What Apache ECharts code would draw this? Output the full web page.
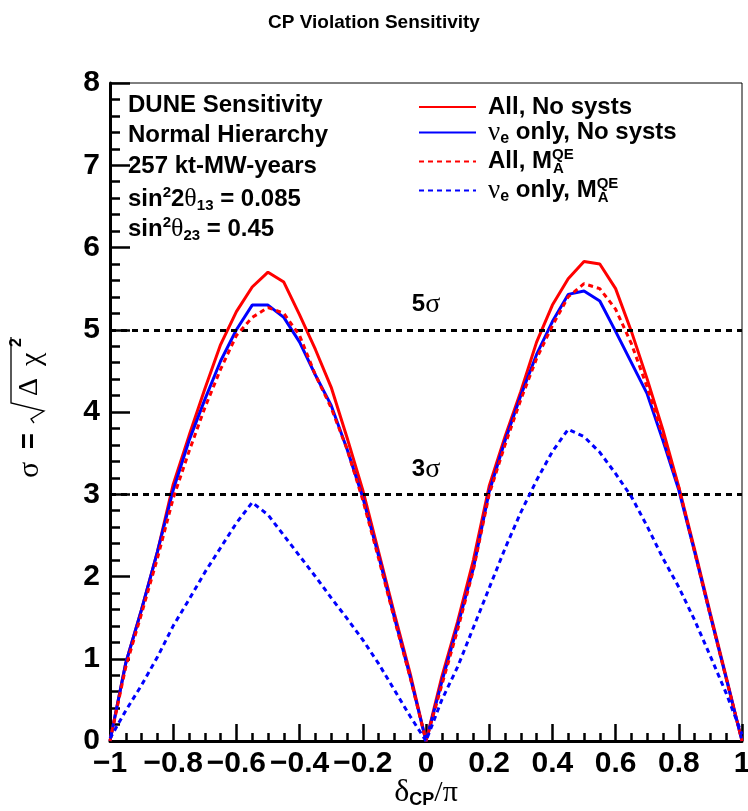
<!DOCTYPE html>
<html><head><meta charset="utf-8">
<script src="https://cdn.jsdelivr.net/npm/echarts@6/dist/echarts.min.js"></script>
<style>html,body{margin:0;padding:0;background:#fff}#c{width:748px;height:811px}</style>
</head><body><div id="c"></div>
<script>
// delta_CP / pi sample points
const deltaCP = [-1,-0.95,-0.9,-0.85,-0.8,-0.75,-0.7,-0.65,-0.6,-0.55,-0.5,-0.45,-0.4,-0.35,-0.3,-0.25,-0.2,-0.15,-0.1,-0.05,
  0,0.05,0.1,0.15,0.2,0.25,0.3,0.35,0.4,0.45,0.5,0.55,0.6,0.65,0.7,0.75,0.8,0.85,0.9,0.95,1];
// sigma = sqrt(delta chi^2)
const allNoSysts = [0,0.95,1.6,2.3,3.12,3.71,4.28,4.82,5.22,5.52,5.70,5.58,5.18,4.76,4.3,3.69,3.05,2.3,1.55,0.82,
  0,0.78,1.45,2.2,3.1,3.7,4.25,4.85,5.3,5.62,5.83,5.8,5.5,4.98,4.4,3.78,3.09,2.33,1.55,0.78,0];
const nueNoSysts = [0,0.95,1.6,2.3,3.05,3.65,4.15,4.62,5.0,5.3,5.3,5.15,4.85,4.45,4.08,3.55,2.96,2.25,1.5,0.78,
  0,0.72,1.4,2.1,3.03,3.65,4.2,4.7,5.1,5.43,5.47,5.35,4.98,4.6,4.22,3.65,3.05,2.3,1.52,0.76,0];
const allMAQE = [0,0.9,1.55,2.22,2.95,3.52,4.05,4.52,4.93,5.15,5.27,5.2,4.93,4.45,4.05,3.55,2.93,2.22,1.48,0.77,
  0,0.68,1.35,2.08,3.0,3.6,4.15,4.65,5.05,5.4,5.56,5.5,5.25,4.83,4.3,3.7,3.08,2.3,1.52,0.76,0];
const nueMAQE = [0.03,0.37,0.68,1.02,1.4,1.72,2.05,2.35,2.65,2.9,2.75,2.5,2.25,2.0,1.74,1.49,1.23,0.94,0.62,0.3,
  0,0.5,0.9,1.38,1.86,2.34,2.78,3.17,3.52,3.79,3.7,3.51,3.25,2.97,2.61,2.22,1.87,1.47,1.03,0.58,0.08];
const seriesNames = ['All, No systs', 'νe only, No systs', 'All, MA QE', 'νe only, MA QE'];
const sigmaLevels = [5, 3];
const infoLines = ['DUNE Sensitivity', 'Normal Hierarchy', '257 kt-MW-years'];

const SANS = '"Liberation Sans", Arial, Helvetica, sans-serif';
const SERIF = '"Liberation Serif", "DejaVu Serif", serif';

function zip(ys){ return deltaCP.map((x,i)=>[x, ys[i]]); }

const chart = echarts.init(document.getElementById('c'), null, {renderer:'canvas'});

const legendRich = {
  b: {fontFamily:SANS, fontSize:24, fontWeight:'bold', color:'#000', lineHeight:29},
  nu: {fontFamily:SERIF, fontSize:27, fontWeight:'normal', color:'#000', lineHeight:29},
  e: {fontFamily:SANS, fontSize:16, fontWeight:'bold', color:'#000', lineHeight:12, verticalAlign:'bottom'},
  sp: {fontFamily:SANS, fontSize:15, fontWeight:'bold', color:'#000', lineHeight:15, verticalAlign:'top', width:1},
  sb: {fontFamily:SANS, fontSize:15, fontWeight:'bold', color:'#000', lineHeight:11, verticalAlign:'bottom'}
};
const legendText = {
  'All, No systs': '{b|All, No systs}',
  'νe only, No systs': '{nu|ν}{e|e}{b| only, No systs}',
  'All, MA QE': '{b|All, M}{sp|QE}{sb|A}',
  'νe only, MA QE': '{nu|ν}{e|e}{b| only, M}{sp|QE}{sb|A}'
};

const infoRich = {
  b: {fontFamily:SANS, fontSize:24, fontWeight:'bold', color:'#000', lineHeight:28},
  t: {fontFamily:SERIF, fontSize:26, fontWeight:'normal', color:'#000', lineHeight:28},
  sp: {fontFamily:SANS, fontSize:15, fontWeight:'bold', color:'#000', lineHeight:15, verticalAlign:'top'},
  sb: {fontFamily:SANS, fontSize:15, fontWeight:'bold', color:'#000', lineHeight:11, verticalAlign:'bottom'}
};
const infoCenters = [105.5, 135.5, 166];
const graphics = infoLines.map((t,i)=>({
  type:'text', x:128, y:infoCenters[i], z:50,
  style:{text:t, font:'bold 24px '+SANS, fill:'#000', verticalAlign:'middle', align:'left'}
}));
graphics.push({type:'text', x:128, y:199.5, z:50, style:{text:'{b|sin}{sp|2}{b|2}{t|θ}{sb|13}{b| = 0.085}', rich:infoRich, verticalAlign:'middle', align:'left'}});
graphics.push({type:'text', x:128, y:229.5, z:50, style:{text:'{b|sin}{sp|2}{t|θ}{sb|23}{b| = 0.45}', rich:infoRich, verticalAlign:'middle', align:'left'}});
// y axis title sigma = sqrt(Delta chi^2), rotated
graphics.push({
  type:'group', x:30, y:408, rotation:Math.PI/2, z:50,
  children:[
    {type:'text', x:-70, y:0, style:{text:'σ', font:'30px '+SERIF, fill:'#000', verticalAlign:'middle', align:'left'}},
    {type:'text', x:-41, y:0, style:{text:'=', font:'bold 27px '+SANS, fill:'#000', verticalAlign:'middle', align:'left'}},
    {type:'polyline', shape:{points:[[-15,4],[-11,1],[-3,14],[5,-19],[71,-19]]}, style:{stroke:'#000', lineWidth:1.3, fill:null}},
    {type:'text', x:12, y:0, style:{text:'Δ', font:'28px '+SERIF, fill:'#000', verticalAlign:'middle', align:'left'}},
    {type:'text', x:42, y:2, style:{text:'χ', font:'30px '+SERIF, fill:'#000', verticalAlign:'middle', align:'left'}},
    {type:'text', x:61, y:-13, style:{text:'2', font:'bold 16px '+SANS, fill:'#000', verticalAlign:'middle', align:'left'}}
  ]
});

const colors = ['#ff0000', '#0000ff', '#ff0000', '#0000ff'];
const dataSets = [allNoSysts, nueNoSysts, allMAQE, nueMAQE];
const series = dataSets.map((ys,i)=>({
  name: seriesNames[i], type:'line', data: zip(ys), symbol:'none', smooth:false,
  lineStyle:{color:colors[i], width:3, type: i>=2 ? [5,4] : 'solid'},
  itemStyle:{color:colors[i]}, z: 3+i, animation:false
}));
series[0].markLine = {
  silent:true, symbol:'none', animation:false,
  lineStyle:{color:'#000', width:3, type:[6,5]},
  label:{position:'insideMiddleTop', distance:11, rich:{
    n:{fontFamily:SANS, fontSize:24, fontWeight:'bold', color:'#000'},
    s:{fontFamily:SERIF, fontSize:28, color:'#000'}
  }},
  data: sigmaLevels.map(v=>({yAxis:v, label:{formatter:'{n|'+v+'}{s|σ}'}}))
};

chart.setOption({
  animation:false,
  backgroundColor:'#fff',
  title:{text:'CP Violation Sensitivity', left:'center', top:8,
    textStyle:{fontFamily:SANS, fontSize:19, fontWeight:'bold', color:'#000'}},
  grid:{left:110, right:6, top:83, bottom:70, show:true, borderColor:'#000', borderWidth:1,
    containLabel:false, outerBoundsMode:'none'},
  legend:{orient:'vertical', left:418, top:95, padding:0, itemWidth:57, itemHeight:14, itemGap:0, selectedMode:false,
    itemStyle:{opacity:0, borderWidth:0},
    data: seriesNames, formatter: n=>legendText[n], textStyle:{rich:legendRich, padding:[0,0,0,7]}},
  xAxis:{type:'value', min:-1, max:1, interval:0.2,
    name:'{d|δ}{s|CP}{p|/π}', nameLocation:'middle', nameGap:36, nameMoveOverlap:false,
    nameTextStyle:{rich:{
      d:{fontFamily:SERIF, fontSize:32, color:'#000', lineHeight:32},
      s:{fontFamily:SANS, fontSize:18, fontWeight:'bold', color:'#000', lineHeight:12, verticalAlign:'bottom'},
      p:{fontFamily:SERIF, fontSize:30, color:'#000', lineHeight:32}
    }},
    axisLine:{show:true, onZero:false, lineStyle:{color:'#000', width:3}},
    axisTick:{show:true, inside:true, length:17, lineStyle:{color:'#000', width:2.5}},
    minorTick:{show:true, splitNumber:4, length:8, lineStyle:{color:'#000', width:2.5}},
    splitLine:{show:false},
    axisLabel:{margin:8, fontFamily:SANS, fontSize:30, fontWeight:'bold', color:'#000',
      formatter: v=> (v<0?'−':'') + Math.abs(v)}
  },
  yAxis:{type:'value', min:0, max:8, interval:1,
    axisLine:{show:true, onZero:false, lineStyle:{color:'#000', width:3}},
    axisTick:{show:true, inside:true, length:20, lineStyle:{color:'#000', width:2.5}},
    minorTick:{show:true, splitNumber:5, length:10, lineStyle:{color:'#000', width:2.5}},
    splitLine:{show:false},
    axisLabel:{margin:10, fontFamily:SANS, fontSize:30, fontWeight:'bold', color:'#000'}
  },
  graphic: graphics,
  series: series
});
</script></body></html>
